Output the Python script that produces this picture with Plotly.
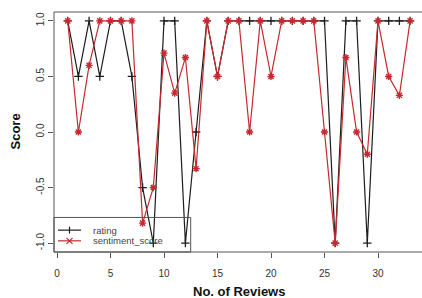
import plotly.graph_objects as go

reviews = list(range(1, 34))
rating = [1, 0.5, 1, 0.5, 1, 1, 0.5, -0.5, -1, 1, 1, -1, 0, 1, 0.5, 1, 1, 1, 1, 1,
          1, 1, 1, 1, 1, -1, 1, 1, -1, 1, 1, 1, 1]
sentiment_score = [1, 0, 0.6, 1, 1, 1, 1, -0.82, -0.5, 0.71, 0.35, 0.67, -0.33, 1, 0.5, 1,
                   1, 0, 1, 0.5, 1, 1, 1, 1, 0, -1, 0.67, 0, -0.2, 1, 0.5, 0.33, 1]
x_ticks = [0, 5, 10, 15, 20, 25, 30]
y_ticks = [-1.0, -0.5, 0.0, 0.5, 1.0]
y_tick_labels = ["-1.0", "-0.5", "0.0", "0.5", "1.0"]
legend_labels = ["rating", "sentiment_score"]

BLACK = "#1e1e1e"
RED = "#c62a2f"
W, H = 422, 298
L, R, T, B = 54, 0, 11.5, 46.1
pw, ph = W - L - R, H - T - B


def px(x):
    return (x - L) / pw


def py(y):
    return (H - B - y) / ph


fig = go.Figure()
fig.add_trace(go.Scatter(x=reviews, y=rating, mode="lines+markers", name=legend_labels[0],
                         line=dict(color=BLACK, width=1.2),
                         marker=dict(symbol="cross-thin-open", size=6,
                                     line=dict(color=BLACK, width=1.3)),
                         showlegend=False))
fig.add_trace(go.Scatter(x=reviews, y=sentiment_score, mode="lines+markers", name=legend_labels[1],
                         line=dict(color=RED, width=1.2),
                         marker=dict(symbol="asterisk-open", size=6,
                                     line=dict(color=RED, width=1.4)),
                         showlegend=False))

shapes = []
shapes.append(dict(type="rect", xref="paper", yref="paper", x0=0, x1=1.02, y0=0, y1=1,
                   line=dict(color="#555", width=1)))
shapes.append(dict(type="rect", xref="paper", yref="paper", x0=px(54), x1=px(190.7),
                   y0=py(251.9), y1=py(217.3), line=dict(color="#555", width=1),
                   fillcolor="rgba(255,255,255,0)"))
annotations = []
for i, (lab, col, yy) in enumerate(zip(legend_labels, [BLACK, RED], [230, 240.7])):
    shapes.append(dict(type="line", xref="paper", yref="paper", x0=px(58), x1=px(81),
                       y0=py(yy), y1=py(yy), line=dict(color=col, width=1.2)))
    cx = 69.5
    if i == 0:
        shapes.append(dict(type="line", xref="paper", yref="paper", x0=px(cx), x1=px(cx),
                           y0=py(yy - 3.5), y1=py(yy + 3.5), line=dict(color=col, width=1.2)))
    else:
        for dx, dy in [(3, 3), (3, -3)]:
            shapes.append(dict(type="line", xref="paper", yref="paper", x0=px(cx - dx), x1=px(cx + dx),
                               y0=py(yy - dy), y1=py(yy + dy), line=dict(color=col, width=1.2)))
    annotations.append(dict(text=lab, xref="paper", yref="paper", x=px(91), y=py(yy),
                            xanchor="left", yanchor="middle", showarrow=False,
                            font=dict(family="Liberation Sans, Arial", size=9.5, color="#444")))

annotations.append(dict(text="<b>No. of Reviews</b>", xref="paper", yref="paper",
                        x=px(238.5), y=py(291.5), xanchor="center", yanchor="middle",
                        showarrow=False, font=dict(family="Liberation Sans, Arial", size=13, color="#111")))
annotations.append(dict(text="<b>Score</b>", xref="paper", yref="paper", textangle=-90,
                        x=px(15.5), y=py(131.7), xanchor="center", yanchor="middle",
                        showarrow=False, font=dict(family="Liberation Sans, Arial", size=13, color="#111")))

fig.update_layout(
    width=W, height=H,
    margin=dict(l=L, r=R, t=T, b=B, pad=0),
    paper_bgcolor="white", plot_bgcolor="white",
    showlegend=False,
    shapes=shapes, annotations=annotations,
    font=dict(family="Liberation Sans, Arial", size=10, color="#333"),
    xaxis=dict(range=[-0.28, -0.28 + pw / 10.7], tickvals=x_ticks, showgrid=False, zeroline=False,
               ticks="outside", ticklen=5, tickcolor="#555", tickwidth=1, ticklabelstandoff=7,
               tickfont=dict(size=10, color="#333")),
    yaxis=dict(range=[-1.08, 1.08], tickvals=y_ticks, ticktext=y_tick_labels, showgrid=False,
               zeroline=False, ticks="outside", ticklen=5, tickcolor="#555", tickwidth=1,
               tickangle=-90, tickfont=dict(size=10, color="#333")),
)

fig.write_html("out.html", config={"displayModeBar": False},
               post_script="document.body.style.margin='0';document.body.style.overflow='hidden';")
